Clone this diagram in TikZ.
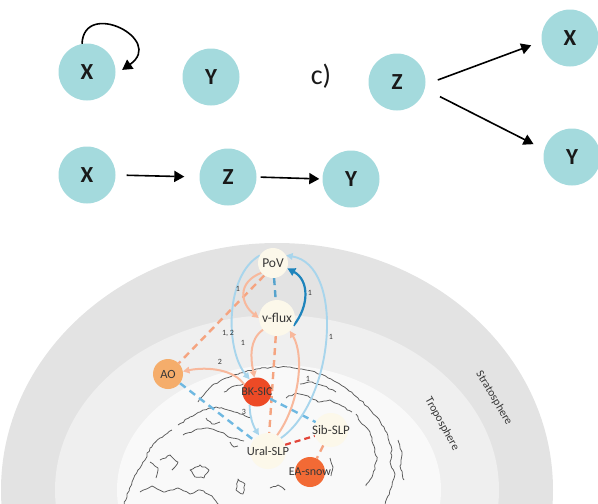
\documentclass[tikz,border=0pt]{standalone}
\usepackage{fontspec}
\setmainfont{Carlito}
\usetikzlibrary{arrows.meta,decorations.pathmorphing}

\definecolor{nodeteal}{RGB}{164,218,221}
\definecolor{ivoryc}{RGB}{252,248,234}
\definecolor{aoc}{RGB}{245,173,107}
\definecolor{bkc}{RGB}{237,74,38}
\definecolor{eac}{RGB}{242,106,53}
\definecolor{salmonc}{RGB}{248,184,156}
\definecolor{salmond}{RGB}{245,164,128}
\definecolor{lbluec}{RGB}{168,213,236}
\definecolor{mbluec}{RGB}{110,184,225}
\definecolor{dbluec}{RGB}{30,132,188}
\definecolor{reddc}{RGB}{226,70,58}
\definecolor{stratoc}{RGB}{227,227,227}
\definecolor{tropoc}{RGB}{239,239,239}
\definecolor{globec}{RGB}{249,249,249}
\definecolor{coastc}{RGB}{90,90,90}
\definecolor{labc}{RGB}{55,55,55}

\pgfdeclarelayer{bands}
\pgfdeclarelayer{links}
\pgfsetlayers{bands,links,main}

% text that may spill over its circle without enlarging it
\newcommand\spill[1]{\makebox[0pt]{#1}}

\begin{document}
\begin{tikzpicture}[x=1pt,y=-1pt,
  tnode/.style={circle,fill=nodeteal,minimum size=57pt,inner sep=0pt,
    font=\fontsize{23}{23}\selectfont\bfseries,text=black!90},
  blk/.style={line width=1.6pt,-{Triangle[length=10pt,width=11pt]}},
  vnode/.style={circle,minimum size=#1,inner sep=0pt,text=labc,
    font=\fontsize{12.5}{13}\selectfont},
  ivory/.style={vnode=#1,fill=ivoryc},
  num/.style={inner sep=0pt,text=labc,font=\fontsize{8}{8}\selectfont},
  layer/.style={inner sep=0pt,text=labc,font=\fontsize{11.5}{12}\selectfont},
  salarr/.style={draw=salmonc,line width=2pt,-{Triangle[length=6.5pt,width=6.5pt]}},
  saldash/.style={draw=salmond,line width=2.4pt,dash pattern=on 7pt off 5pt},
  lbarr/.style={draw=lbluec,line width=1.9pt,-{Triangle[length=6.5pt,width=6.5pt]}},
  bdash/.style={draw=mbluec,line width=2.4pt,dash pattern=on 7pt off 5pt},
  dbarr/.style={draw=dbluec,line width=2.2pt,-{Triangle[length=8pt,width=8pt]}},
  rdash/.style={draw=reddc,line width=2.2pt,dash pattern=on 6pt off 4pt},
  coast/.style={draw=coastc,line width=0.75pt,line join=round,decorate,
    decoration={random steps,segment length=3pt,amplitude=0.8pt}}]

\useasboundingbox (0,0) rectangle (598,504);

% ---------- atmosphere layers and the globe ----------
\begin{pgfonlayer}{bands}
\begin{scope}
  \clip (0,0) rectangle (598,504);
  \fill[stratoc] (277,490) ellipse [x radius=276, y radius=247];
  \fill[tropoc]  (277,490) ellipse [x radius=222, y radius=175];
  \fill[globec]  (279,490) ellipse [x radius=162, y radius=125];
  \pgfmathsetseed{4242}
  % arctic coast
  \draw[coast] (198,402) -- (206,392) -- (214,384) -- (226,378) -- (240,373)
     -- (256,369) -- (272,367) -- (290,367) -- (306,370) -- (320,374) -- (334,381)
     -- (347,389) -- (358,398) -- (368,407) -- (377,417) -- (384,427);
  % pacific coast
  \draw[coast] (384,427) -- (388,438) -- (392,450) -- (390,462) -- (395,474)
     -- (392,486) -- (388,496) -- (385,506);
  \draw[coast] (356,414) -- (362,424) -- (370,432) -- (374,446) -- (377,460)
     -- (373,474) -- (366,486);
  \draw[coast] (398,440) -- (402,452) -- (400,466) -- (404,480);
  % northern islands and peninsulas
  \draw[coast] (178,425) -- (190,417) -- (203,410) -- (216,407) -- (228,410)
     -- (240,414) -- (252,418);
  \draw[coast] (183,435) -- (195,430) -- (208,428) -- (220,432) -- (232,438)
     -- (244,441);
  \draw[coast] (286,398) -- (296,393) -- (308,396) -- (318,402) -- (330,400)
     -- (342,406) -- (352,412);
  \draw[coast] (224,392) -- (234,386) -- (244,384);
  \draw[coast] (300,384) -- (312,382) -- (324,386) -- (336,392);
  \draw[coast] (206,418) -- (212,424) -- (220,422);
  % europe
  \draw[coast] (172,430) -- (160,438) -- (150,448) -- (145,460) -- (138,470)
     -- (132,482) -- (127,494) -- (124,506);
  \draw[coast] (140,492) -- (152,486) -- (165,492) -- (178,488) -- (190,494)
     -- (200,490) -- (212,496) -- (220,506);
  \draw[coast] (190,470) -- (200,465) -- (209,470) -- (204,478) -- (195,477) -- cycle;
  \draw[coast] (238,479) -- (245,484) -- (243,494) -- (236,490) -- cycle;
  \draw[coast] (150,462) -- (158,468) -- (156,478);
  % inland strokes
  \draw[coast] (230,442) -- (234,447) -- (238,446);
  \draw[coast] (270,488) -- (278,485) -- (285,490);
  \draw[coast] (330,458) -- (333,467) -- (331,476);
  \draw[coast] (160,460) -- (170,455) -- (178,462) -- (172,470);
\end{scope}
\end{pgfonlayer}

\node[layer,rotate=-59] (strat) at (494,398) {Stratosphere};
\node[layer,rotate=-61] (trop) at (442,424) {Troposphere};

% ---------- top: small causal graphs ----------
\node[tnode] (X1) at (87,72) {X};
\node[tnode] (Y1) at (211,77) {Y};
\node[tnode] (X2) at (87,175) {X};
\node[tnode] (Z2) at (228,177) {Z};
\node[tnode] (Y2) at (351,179) {Y};
\node[inner sep=0pt,font=\fontsize{28}{28}\selectfont,text=black!90] (clab) at (321,76) {c)};
\node[tnode] (Z3) at (397,82) {Z};
\node[tnode] (X3) at (570,38) {X};
\node[tnode] (Y3) at (572,157) {Y};

\draw[blk,shorten >=8pt] (X1.100) .. controls +(2,-45) and +(50,-35) .. (X1.-5);
\draw[blk,shorten <=11pt,shorten >=15pt] (X2.east) -- (Z2.west);
\draw[blk,shorten <=4pt,shorten >=3pt] (Z2.east) -- (Y2.west);
\draw[blk,shorten <=13pt,shorten >=11pt] (Z3.-5) -- (X3.187);
\draw[blk,shorten <=17pt,shorten >=12pt] (Z3.-14) -- (Y3.165);

% ---------- bottom: variables ----------
\node[ivory=30pt,font=\fontsize{13.5}{14}\selectfont] (PoV) at (273,263) {\spill{PoV}};
\node[ivory=36pt,font=\fontsize{13.5}{14}\selectfont] (vflux) at (277,318) {\spill{v-flux}};
\node[vnode=30pt,fill=aoc] (AO) at (168,374) {\spill{AO}};
\node[vnode=29pt,fill=bkc,font=\fontsize{12}{12}\selectfont] (BK) at (257,392) {\spill{BK-SIC}};
\node[ivory=36pt] (Ural) at (268,451) {\spill{Ural-SLP}};
\node[ivory=34pt,font=\fontsize{13}{13}\selectfont] (Sib) at (331,430) {\spill{Sib-SLP}};
\node[vnode=30pt,fill=eac,font=\fontsize{12}{12}\selectfont] (EA) at (310,472) {\spill{EA-snow}};

% ---------- links ----------
\begin{pgfonlayer}{links}
  % contemporaneous links
  \draw[bdash,draw=dbluec!75] (PoV) -- (vflux);
  \draw[saldash] (PoV.-125) -- (AO.45);
  \draw[saldash] (vflux) -- (Ural);
  \draw[bdash] (AO) -- (Ural);
  \draw[bdash] (BK) -- (Sib);
  \draw[rdash] (Ural.20) -- (Sib.200);
  \draw[saldash] (Sib) -- (EA);
  % lagged links
  \draw[lbarr] (Ural.45) .. controls (335,400) and (345,265) .. (PoV.30);
  \draw[lbarr] (PoV.150) .. controls (225,275) and (225,350) .. (BK.120);
  \draw[lbarr] (BK.-120) .. controls +(0,12) and +(-6,-10) .. (Ural.120);
  \draw[salarr] (PoV.-140) .. controls +(-25,10) and +(-18,-14) .. (vflux.180);
  \draw[salarr] (vflux.-140) .. controls +(-14,10) and +(-4,-20) .. (BK.100);
  \draw[salarr] (Ural.60) .. controls +(22,-30) and +(15,25) .. (vflux.-45);
  \draw[salarr] (BK.150) .. controls +(-10,-15) and +(25,-5) .. (AO.10);
  \draw[dbarr] (vflux.-25) .. controls +(16,-20) and +(22,12) .. (PoV.-20);
\end{pgfonlayer}

% ---------- lag labels ----------
\node[num] (l1) at (310,293) {1};
\node[num] (l2) at (331,337) {1};
\node[num] (l3) at (238,289) {1};
\node[num] (l4) at (228,333) {1, 2};
\node[num] (l5) at (243,343) {1};
\node[num] (l6) at (220,362) {2};
\node[num] (l7) at (308,379) {1};
\node[num] (l8) at (244,412) {3};
\end{tikzpicture}
\end{document}
